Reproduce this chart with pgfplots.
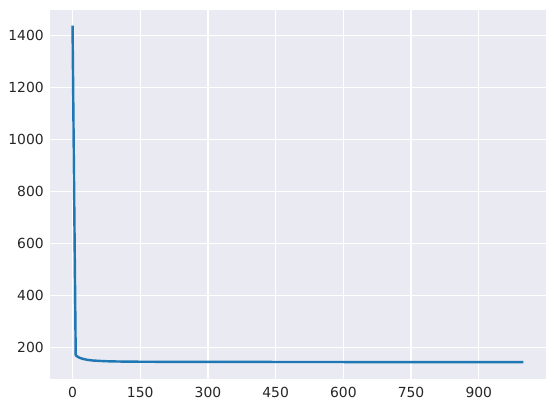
\documentclass[border=0pt]{standalone}
\usepackage{fontspec}
\setmainfont{DejaVu Sans}
\usepackage{pgfplots}
\pgfplotsset{compat=1.18}
\definecolor{bgcol}{HTML}{EAEAF2}
\definecolor{txtcol}{HTML}{262626}
\definecolor{linecol}{HTML}{1F77B4}

\begin{document}
\begin{tikzpicture}
% page = 555 x 408 px, 1 px = 0.72pt
\path[use as bounding box] (0pt,0pt) rectangle (399.6pt,293.76pt);
\begin{axis}[
  at={(36pt,20.88pt)}, anchor=south west,
  scale only axis, width=357.12pt, height=265.68pt,
  xmin=-49.95, xmax=1048.95, ymin=79, ymax=1497,
  axis background/.style={fill=bgcol},
  axis line style={draw=none},
  xtick={0,150,300,450,600,750,900},
  ytick={200,400,600,800,1000,1200,1400},
  major tick length=0pt,
  grid=major, major grid style={white, line width=1pt},
  tick label style={font=\fontsize{10}{12}\selectfont, text=txtcol},
  /pgf/number format/assume math mode=true,
  /pgf/number format/1000 sep={},
  xticklabel style={yshift=-2.5pt},
  yticklabel style={xshift=-1pt},
]
\addplot[color=linecol, line width=1.75pt, line join=round] coordinates {
  (0,1437) (7,171) (10,166) (15,161) (20,158) (26,155) (35,152)
  (45,150) (55,149) (70,147.5) (90,146.5) (130,145.5) (200,145)
  (400,144.5) (700,144) (999,144)
};
\end{axis}
\end{tikzpicture}
\end{document}
